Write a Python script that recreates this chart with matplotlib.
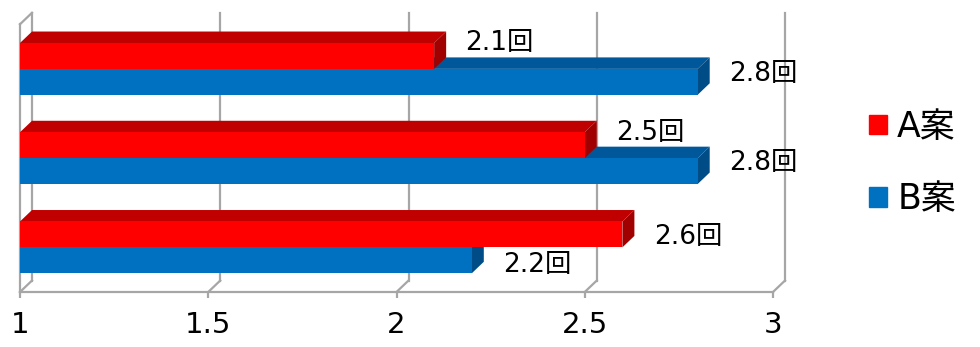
import matplotlib
matplotlib.use("Agg")
import matplotlib.pyplot as plt
from matplotlib.patches import Patch

plt.rcParams['font.family'] = ['DejaVu Sans', 'Noto Sans CJK JP']

# data (groups listed top to bottom)
series_names = ['A案', 'B案']
a_values = [2.1, 2.5, 2.6]
b_values = [2.8, 2.8, 2.2]
group_pos = [2, 1, 0]
x_ticks = [1, 1.5, 2, 2.5, 3]
x_tick_labels = ['1', '1.5', '2', '2.5', '3']

# 3d look
W, H = 980, 347
px_x = 753 / 2.0        # pixels per x unit
px_y = 89.5             # pixels per category
DX = 12 / px_x          # depth offset in data units
DY = 11.5 / px_y
BAR_H = 0.29
GRID = '#A6A6A6'

red = {'front': '#FF0000', 'top': '#C00000', 'side': '#A00000'}
blue = {'front': '#0070C0', 'top': '#00589A', 'side': '#004C86'}

# label nudges in points (layout only)
a_nudge = [9.5, 8.5, -1.5]
b_nudge = [5.5, 5.5, -3.5]

fig = plt.figure(figsize=(W / 100, H / 100), dpi=100)
ax = fig.add_axes([20 / W, (H - 292) / H, 753 / W, (292 - 24.25) / H])
ax.set_xlim(1, 3)
ax.set_ylim(-0.5, 2.5)


def bar3d(x0, val, yc, col, z):
    y0, y1 = yc - BAR_H / 2, yc + BAR_H / 2
    # top face
    ax.fill([x0, val, val + DX, x0 + DX], [y1, y1, y1 + DY, y1 + DY],
            color=col['top'], lw=0, zorder=z, clip_on=False)
    # side face
    ax.fill([val, val + DX, val + DX, val], [y0, y0 + DY, y1 + DY, y1],
            color=col['side'], lw=0, zorder=z, clip_on=False)
    ax.barh(yc, val - x0, left=x0, height=BAR_H, color=col['front'],
            lw=0, zorder=z + 0.1)


# back wall grid lines, floor diagonals
y_lo, y_hi = ax.get_ylim()
for t in x_ticks:
    ax.plot([t + DX, t + DX], [y_lo + DY, y_hi + DY], color=GRID, lw=1.6,
            zorder=1, clip_on=False)
    ax.plot([t, t + DX], [y_lo, y_lo + DY], color=GRID, lw=1.6, zorder=1,
            clip_on=False)
# left wall top edge
ax.plot([x_ticks[0], x_ticks[0] + DX], [y_hi, y_hi + DY], color=GRID, lw=1.6,
        zorder=1, clip_on=False)

for i, yc in enumerate(group_pos):
    z = 3 + i * 2
    bar3d(1, b_values[i], yc - BAR_H / 2, blue, z)
    bar3d(1, a_values[i], yc + BAR_H / 2, red, z + 1)

    ax.annotate(f'{a_values[i]}回', xy=(a_values[i] + DX, yc + BAR_H / 2),
                xytext=(14, a_nudge[i]), textcoords='offset points',
                ha='left', va='center', fontsize=19,
                color='black', zorder=20, annotation_clip=False)
    ax.annotate(f'{b_values[i]}回', xy=(b_values[i] + DX, yc - BAR_H / 2),
                xytext=(14, b_nudge[i]), textcoords='offset points',
                ha='left', va='center', fontsize=19,
                color='black', zorder=20, annotation_clip=False)

ax.set_xticks(x_ticks)
ax.set_xticklabels(x_tick_labels)
ax.set_yticks([])
ax.tick_params(axis='x', direction='out', length=4, width=1.6, color=GRID,
               pad=10, labelsize=21)
for s in ['top', 'right']:
    ax.spines[s].set_visible(False)
for s in ['left', 'bottom']:
    ax.spines[s].set_color(GRID)
    ax.spines[s].set_linewidth(1.6)

handles = [Patch(color=red['front'], label=series_names[0]),
           Patch(color=blue['front'], label=series_names[1])]
fig.legend(handles=handles, loc='center left',
           bbox_to_anchor=(852 / W, (H - 163) / H), frameon=False,
           prop={'size': 25}, handlelength=0.5,
           handleheight=0.5, handletextpad=0.3, labelspacing=1.1,
           borderpad=0)

fig.savefig('out.png', dpi=100)
